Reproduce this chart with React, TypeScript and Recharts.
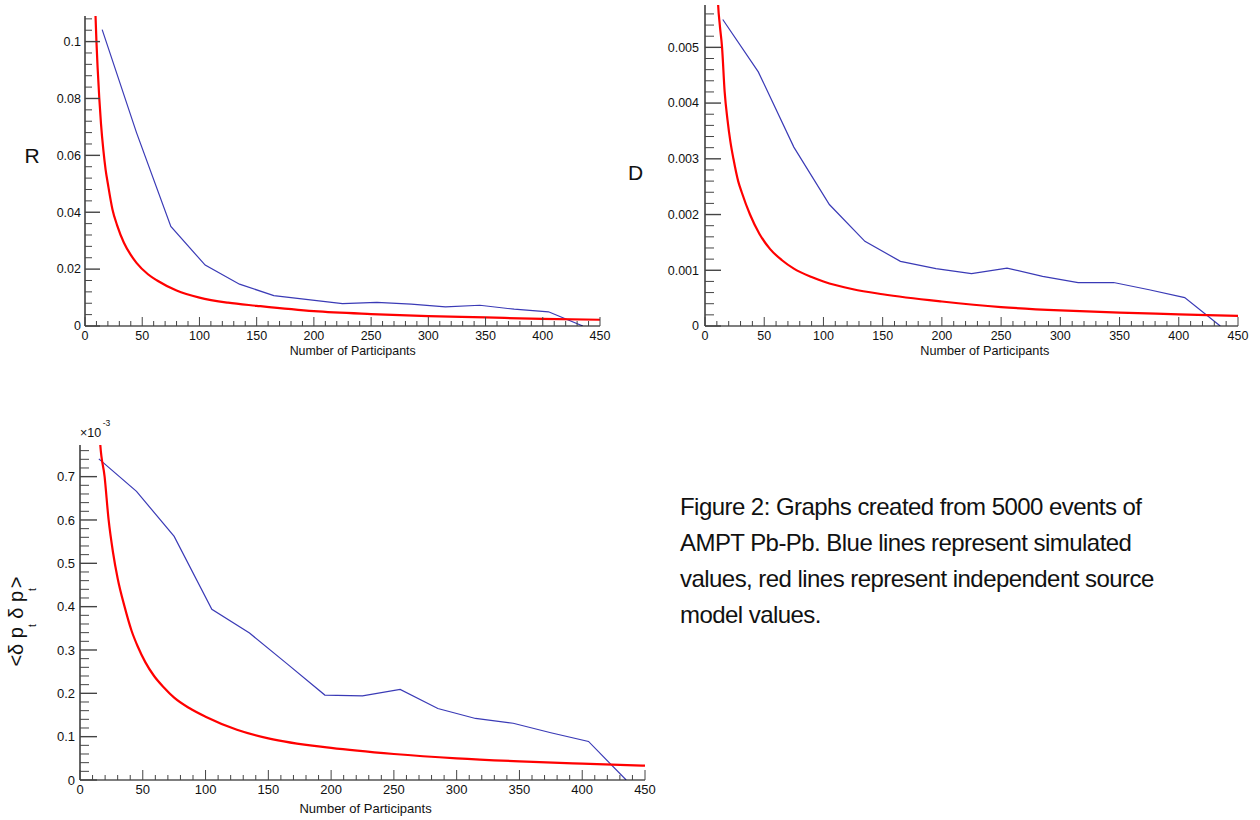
import React from 'react';
import { LineChart, Line, XAxis, YAxis } from 'recharts';

// ---------- data ----------
const participants = [15, 45, 75, 105, 135, 165, 195, 225, 255, 285, 315, 345, 375, 405, 435];

const rSimulated = [0.1042, 0.068, 0.035, 0.0214, 0.0147, 0.0107, 0.0093, 0.0079, 0.0083, 0.0077, 0.0067, 0.0073, 0.0059, 0.005, 0];
const dSimulated = [0.0055, 0.00456, 0.00321, 0.00218, 0.00152, 0.00116, 0.00103, 0.00094, 0.00104, 0.00089, 0.00078, 0.00078, 0.00065, 0.00051, 0];
const ptSimulated = [0.741, 0.666, 0.562, 0.394, 0.339, 0.268, 0.196, 0.194, 0.209, 0.165, 0.142, 0.131, 0.109, 0.089, 0];

const rModelN = [8.5, 9.2, 10, 11, 12.5, 14, 16, 18, 20, 24, 28, 34, 40, 45, 55, 63, 80, 100, 125, 150, 200, 250, 300, 350, 400, 450];
const rModel = [0.118, 0.109, 0.1, 0.091, 0.08, 0.071, 0.062, 0.055, 0.05, 0.041, 0.0355, 0.0293, 0.025, 0.0222, 0.0182, 0.016, 0.0125, 0.01, 0.0082, 0.0071, 0.0052, 0.0042, 0.0035, 0.003, 0.0025, 0.0022];

const dModelN = [10, 11, 12.5, 14.4, 16.6, 19, 21.5, 24, 28, 31, 38, 46, 55, 65, 75, 90, 100, 125, 150, 200, 250, 300, 350, 400, 450];
const dModel = [0.0064, 0.0058, 0.0054, 0.005, 0.0042, 0.0037, 0.0033, 0.003, 0.0026, 0.0024, 0.002, 0.00165, 0.00138, 0.00118, 0.00103, 0.00088, 0.0008, 0.00066, 0.00057, 0.00044, 0.00034, 0.00028, 0.00024, 0.00021, 0.00018];

const ptModelN = [14.5, 16, 19.6, 22.8, 26.3, 30, 35.5, 41, 46, 52, 59, 67, 75, 87, 100, 125, 150, 200, 250, 300, 350, 400, 450];
const ptModel = [0.9, 0.78, 0.7, 0.6, 0.525, 0.465, 0.4, 0.345, 0.308, 0.272, 0.24, 0.213, 0.19, 0.166, 0.146, 0.116, 0.096, 0.074, 0.06, 0.05, 0.043, 0.0377, 0.033];

// tick labels
const xMajor = [0, 50, 100, 150, 200, 250, 300, 350, 400, 450];
const xLabels = ['0', '50', '100', '150', '200', '250', '300', '350', '400', '450'];
const rMajor = [0, 0.02, 0.04, 0.06, 0.08, 0.1];
const rLabels = ['0', '0.02', '0.04', '0.06', '0.08', '0.1'];
const dMajor = [0, 0.001, 0.002, 0.003, 0.004, 0.005];
const dLabels = ['0', '0.001', '0.002', '0.003', '0.004', '0.005'];
const ptMajor = [0, 0.1, 0.2, 0.3, 0.4, 0.5, 0.6, 0.7];
const ptLabels = ['0', '0.1', '0.2', '0.3', '0.4', '0.5', '0.6', '0.7'];

const captionLines = [
  'Figure 2: Graphs created from 5000 events of',
  'AMPT Pb-Pb. Blue lines represent simulated',
  'values, red lines represent independent source',
  'model values.',
];

// ---------- helpers ----------
const FONT = '"Liberation Sans", Arial, Helvetica, sans-serif';
const BLUE = '#3a3ab6';
const RED = '#ff0000';

const steps = (count: number, step: number, digits: number) =>
  Array.from({ length: count }, (_, i) => Number((i * step).toFixed(digits)));

const xTicks = steps(46, 10, 0);
const rTicks = steps(28, 0.004, 4);
const dTicks = steps(29, 0.0002, 5);
const ptTicks = steps(39, 0.02, 3);

const pair = (xs: number[], ys: number[]) => xs.map((n, i) => ({ n, v: ys[i] }));

const findMajor = (majors: number[], v: number) => majors.findIndex((m) => Math.abs(m - v) < 1e-9);

function makeXTick(fontSize: number, majorLen: number, minorLen: number) {
  return (props: any) => {
    const { x, y, payload } = props;
    const idx = findMajor(xMajor, payload.value);
    const major = idx >= 0;
    return (
      <g>
        <line x1={x} y1={y} x2={x} y2={y - (major ? majorLen : minorLen)} stroke="#444" strokeWidth={1} />
        {major && (
          <text x={x} y={y + 13.5} textAnchor="middle" fontSize={fontSize} fontFamily={FONT} fill="#111">
            {xLabels[idx]}
          </text>
        )}
      </g>
    );
  };
}

function makeYTick(majors: number[], labels: string[], fontSize: number, majorLen: number, minorLen: number, gap: number) {
  return (props: any) => {
    const { x, y, payload } = props;
    const idx = findMajor(majors, payload.value);
    const major = idx >= 0;
    return (
      <g>
        <line x1={x} y1={y} x2={x + (major ? majorLen : minorLen)} y2={y} stroke="#444" strokeWidth={major ? 1.4 : 1} />
        {major && (
          <text x={x - gap} y={y} dy="0.35em" textAnchor="end" fontSize={fontSize} fontFamily={FONT} fill="#111">
            {labels[idx]}
          </text>
        )}
      </g>
    );
  };
}

type PanelProps = {
  left: number;
  top: number;
  width: number;
  height: number;
  margin: { top: number; right: number; bottom: number; left: number };
  yWidth: number;
  xHeight: number;
  yDomain: [number, number];
  yTicks: number[];
  yMajor: number[];
  yLabels: string[];
  fontSize: number;
  yMajorLen: number;
  yMinorLen: number;
  yGap: number;
  xMajorLen: number;
  xMinorLen: number;
  blue: { n: number; v: number }[];
  red: { n: number; v: number }[];
};

function Panel(p: PanelProps) {
  return (
    <div style={{ position: 'absolute', left: p.left, top: p.top, width: p.width, height: p.height }}>
      <LineChart width={p.width} height={p.height} margin={p.margin}>
        <XAxis
          dataKey="n"
          type="number"
          domain={[0, 450]}
          ticks={xTicks}
          interval={0}
          tickSize={0}
          tickMargin={0}
          tickLine={false}
          axisLine={{ stroke: '#000', strokeWidth: 1.2 }}
          tick={makeXTick(p.fontSize, p.xMajorLen, p.xMinorLen)}
          height={p.xHeight}
          allowDataOverflow
        />
        <YAxis
          type="number"
          domain={p.yDomain}
          ticks={p.yTicks}
          interval={0}
          tickSize={0}
          tickMargin={0}
          tickLine={false}
          axisLine={{ stroke: '#000', strokeWidth: 1.2 }}
          tick={makeYTick(p.yMajor, p.yLabels, p.fontSize, p.yMajorLen, p.yMinorLen, p.yGap)}
          width={p.yWidth}
          allowDataOverflow
        />
        <Line data={p.blue} dataKey="v" type="linear" stroke={BLUE} strokeWidth={1.2} dot={false} isAnimationActive={false} />
        <Line data={p.red} dataKey="v" type="monotone" stroke={RED} strokeWidth={2.2} dot={false} isAnimationActive={false} />
      </LineChart>
    </div>
  );
}

export default function App() {
  return (
    <div style={{ position: 'absolute', left: 0, top: 0, width: 1260, height: 820, background: '#fff', fontFamily: FONT }}>
      <Panel
        left={0}
        top={0}
        width={620}
        height={360}
        margin={{ top: 16, right: 20, bottom: 0, left: 0 }}
        yWidth={85}
        xHeight={34}
        yDomain={[0, 0.109]}
        yTicks={rTicks}
        yMajor={rMajor}
        yLabels={rLabels}
        fontSize={12.5}
        yMajorLen={15}
        yMinorLen={7}
        yGap={4}
        xMajorLen={9}
        xMinorLen={5}
        blue={pair(participants, rSimulated)}
        red={pair(rModelN, rModel)}
      />
      <Panel
        left={620}
        top={0}
        width={640}
        height={360}
        margin={{ top: 5, right: 22, bottom: 0, left: 0 }}
        yWidth={85}
        xHeight={34}
        yDomain={[0, 0.00576]}
        yTicks={dTicks}
        yMajor={dMajor}
        yLabels={dLabels}
        fontSize={12.5}
        yMajorLen={16}
        yMinorLen={9}
        yGap={6}
        xMajorLen={9}
        xMinorLen={5}
        blue={pair(participants, dSimulated)}
        red={pair(dModelN, dModel)}
      />
      <Panel
        left={0}
        top={400}
        width={660}
        height={420}
        margin={{ top: 45, right: 15, bottom: 0, left: 0 }}
        yWidth={80}
        xHeight={40}
        yDomain={[0, 0.773]}
        yTicks={ptTicks}
        yMajor={ptMajor}
        yLabels={ptLabels}
        fontSize={13}
        yMajorLen={17}
        yMinorLen={9}
        yGap={5}
        xMajorLen={10}
        xMinorLen={5}
        blue={pair(participants, ptSimulated)}
        red={pair(ptModelN, ptModel)}
      />

      <svg
        width={1260}
        height={820}
        style={{ position: 'absolute', left: 0, top: 0, pointerEvents: 'none' }}
        fontFamily={FONT}
      >
        <text x={32} y={163} textAnchor="middle" fontSize={21} fill="#111">R</text>
        <text x={635.5} y={180} textAnchor="middle" fontSize={21} fill="#111">D</text>
        <text transform="translate(23, 621.5) rotate(-90)" textAnchor="middle" fontSize={20} fill="#111">
          {'<δ p'}
          <tspan dy={13} fontSize={10}>t</tspan>
          <tspan dy={-13}>{' δ p'}</tspan>
          <tspan dy={13} fontSize={10}>t</tspan>
          <tspan dy={-13}>{'>'}</tspan>
        </text>
        <text x={80} y={436.5} fontSize={12.5} fill="#111">
          ×10
          <tspan dx={1.5} dy={-11} fontSize={8.5}>-3</tspan>
        </text>
        <text x={415.7} y={355} textAnchor="end" fontSize={12.4} fill="#111">Number of Participants</text>
        <text x={1049.3} y={354.5} textAnchor="end" fontSize={12.7} fill="#111">Number of Participants</text>
        <text x={431.7} y={813} textAnchor="end" fontSize={13} fill="#111">Number of Participants</text>
      </svg>

      <div
        style={{
          position: 'absolute',
          left: 680,
          top: 489,
          fontSize: 24,
          lineHeight: '36px',
          letterSpacing: '-0.55px',
          color: '#111',
          whiteSpace: 'nowrap',
        }}
      >
        {captionLines.map((line, i) => (
          <div key={i}>{line}</div>
        ))}
      </div>
    </div>
  );
}
